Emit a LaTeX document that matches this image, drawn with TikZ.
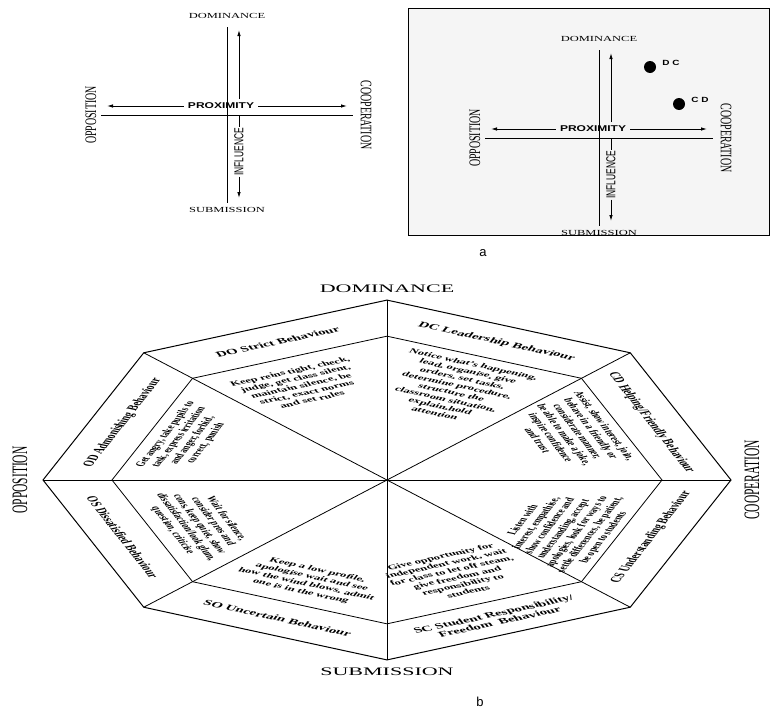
\documentclass[tikz,border=0pt]{standalone}
\usepackage{fontspec}
\setmainfont{Liberation Serif}
\setsansfont{Liberation Sans}
\usetikzlibrary{arrows.meta}
\usetikzlibrary{positioning}

\tikzset{
  axisline/.style={line width=0.9pt},
  axisarrow/.style={line width=0.9pt,-{Latex[length=6pt,width=3.5pt]}},
  pole/.style={font=\fontsize{12.5}{12.5}\selectfont,yscale=0.62,inner sep=1pt},
  sidepole/.style={font=\fontsize{16}{16}\selectfont,yscale=0.62,inner sep=1pt},
  axisname/.style={font=\sffamily\bfseries\fontsize{12}{12}\selectfont,yscale=0.7,inner sep=4pt},
  flowname/.style={font=\sffamily\fontsize{13}{13}\selectfont,yscale=0.65,inner sep=1pt},
  dot/.style={circle,fill=black,inner sep=0pt,minimum size=12pt},
  pointname/.style={font=\sffamily\bfseries\fontsize{10}{10}\selectfont,yscale=0.75,inner sep=0pt},
  octline/.style={line width=0.8pt},
  bandlabel/.style={font=\fontsize{15}{16}\selectfont\bfseries,align=center,inner sep=0pt},
  advice/.style={font=\fontsize{12.8}{14.5}\selectfont\bfseries,align=center,inner sep=0pt},
  bigpole/.style={font=\fontsize{22}{22}\selectfont,inner sep=0pt},
  panelname/.style={font=\sffamily\fontsize{13}{13}\selectfont,inner sep=0pt}
}

% #1 name prefix, #2 half length of the proximity axis
\newcommand\compass[2]{
  \pgfmathsetmacro\arm{#2}
  \draw[axisline] (0,88) -- (0,-88);
  \draw[axisline] (-\arm,0) -- (\arm,0);
  \node[pole] (#1dom) at (0,99) {DOMINANCE};
  \node[pole] (#1sub) at (0,-95) {SUBMISSION};
  \node[sidepole,rotate=90] (#1opp) at (-\arm-10,0) {OPPOSITION};
  \node[sidepole,rotate=-90] (#1coop) at (\arm+13,0) {COOPERATION};
  % proximity
  \node[axisname] (#1prox) at (-6,9) {PROXIMITY};
  \coordinate (#1proxl) at (-\arm+6,9);
  \coordinate (#1proxr) at (\arm-6,9);
  \draw[axisarrow] (#1prox) -- (#1proxl);
  \draw[axisarrow] (#1prox) -- (#1proxr);
  % influence
  \node[flowname,rotate=90] (#1infl) at (12,-37) {INFLUENCE};
  \coordinate (#1inflm) at (12,16);
  \coordinate (#1inflh) at (12,0);
  \coordinate (#1inflt) at (12,85);
  \coordinate (#1inflb) at (12,-83);
  \draw[axisarrow] (#1inflm) -- (#1inflt);
  \draw[axisline] (#1inflh) -- (#1infl);
  \draw[axisarrow] (#1infl) -- (#1inflb);
}

\begin{document}
\begin{tikzpicture}[x=1pt,y=1pt]
  \useasboundingbox (0,0) rectangle (771,-720);

  % a: the two axes
  \begin{scope}[shift={(227,-115)}]
    \compass{tl}{126}
  \end{scope}

  \draw[fill=gray!8,line width=1pt] (408,-8) rectangle (769,-235);
  \begin{scope}[shift={(599,-138)}]
    \compass{tr}{114}
    \node[dot] (dc) at (51,71) {};
    \node[dot] (cd) at (80,34) {};
    \node[pointname,right=6pt of dc,yshift=5pt] (dcname) {D C};
    \node[pointname,right=6pt of cd,yshift=5pt] (cdname) {C D};
  \end{scope}
  \node[panelname] (panela) at (483,-253) {a};

  % b: the octagon
  \begin{scope}[shift={(387,-480)},yscale=0.523,transform shape]
    \draw[octline,line width=1pt] (0:344) \foreach \a in {45,90,...,315} { -- (\a:344) } -- cycle;
    \draw[octline] (0:275) \foreach \a in {45,90,...,315} { -- (\a:275) } -- cycle;
    \foreach \a in {0,45,90,135}
      \draw[octline] (\a:344) -- (\a+180:344);

    \node[bigpole] (dominance) at (0,365) {DOMINANCE};
    \node[bigpole] (submission) at (0,-367) {SUBMISSION};
    \node[bigpole,rotate=90] (opposition) at (-367,0) {OPPOSITION};
    \node[bigpole,rotate=90] (cooperation) at (365,0) {COOPERATION};

    \foreach \ang/\rot/\txt [count=\i] in {
        112.5/22.5/{DO Strict Behaviour},
        67.5/-22.5/{DC Leadership Behaviour},
        22.5/-67.5/{CD Helping/Friendly Behaviour},
        -22.5/67.5/{CS Understanding Behaviour},
        -67.5/22.5/{SC Student Responsibility/\\Freedom\ \ Behaviour},
        -112.5/-22.5/{SO Uncertain Behaviour},
        -157.5/-67.5/{OS Dissatisfied Behaviour},
        157.5/67.5/{OD Admonishing Behaviour}}
      \node[bandlabel,rotate=\rot] (band\i) at (\ang:286) {\txt};

    \foreach \ang/\rad/\rot/\txt [count=\i] in {
        115.5/200/22.5/{Keep reins tight, check,\\judge, get class silent,\\maintain silence, be\\strict, exact norms\\and set rules},
        68.9/187/-22.5/{Notice what's happening,\\lead, organise, give\\orders, set tasks,\\determine procedure,\\structure the\\classroom situation,\\explain,hold\\attention},
        26/205/-67.5/{Assist, show interest, join,\\behave in a friendly or\\considerate manner,\\be able to make a joke,\\inspire confidence\\and trust},
        -28/200/67.5/{Listen with\\interest, empathise,\\show confidence and\\understanding, accept\\apologies, look for ways to\\settle differences, be patient,\\be open to students},
        -69.5/192/22.5/{Give opportunity for\\independent work, wait\\for class to let off steam,\\give freedom and\\responsibility to\\students},
        -112/208/-22.5/{Keep a low profile,\\apologise wait and see\\how the wind blows, admit\\one is in the wrong},
        -155.6/206/-67.5/{Wait for silence,\\consider pros and\\cons, keep quiet, show\\dissatisfaction/look glum,\\question, criticise},
        158.7/216/67.5/{Get angry, take pupils to\\task, express irritation\\and anger, forbid,\\correct, punish}}
      \node[advice,rotate=\rot] (advice\i) at (\ang:\rad) {\txt};
  \end{scope}
  \node[panelname] (panelb) at (480,-702) {b};

\end{tikzpicture}
\end{document}
